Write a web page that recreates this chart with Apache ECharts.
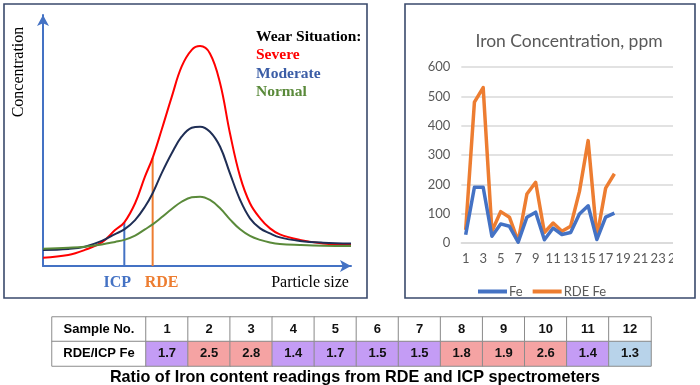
<!DOCTYPE html>
<html><head><meta charset="utf-8">
<script src="https://cdn.jsdelivr.net/npm/echarts@6/dist/echarts.min.js"></script>
<style>html,body{margin:0;padding:0;background:#fff}#c{width:700px;height:385px}</style>
</head><body><div id="c"></div>
<script>
// ---- Left panel: conceptual particle size distribution ----
const curveX   = [0, 8.2, 13.6, 19.1, 23.4, 26.4, 29.9, 33.1, 35.6, 38.5, 41.8, 45.0, 48.3, 51.0, 54.2, 57.5, 60.7, 64.0, 67.2, 70.5, 73.7, 76.9, 83.4, 90.9, 100];
const severe   = [3.3, 4.4, 6.4, 9.4, 14.3, 17.4, 25.0, 35.6, 43.1, 54.2, 67.4, 79.4, 86.1, 87.6, 84.7, 72.8, 52.9, 35.6, 25.0, 19.0, 15.0, 12.6, 10.4, 9.0, 8.6];
const moderate = [6.4, 6.8, 7.7, 10.0, 12.7, 14.6, 18.3, 23.6, 29.0, 36.9, 44.9, 51.5, 55.1, 55.5, 53.5, 47.5, 36.9, 26.3, 19.0, 15.0, 13.0, 11.4, 10.0, 9.3, 9.0];
const normal   = [6.9, 7.3, 7.7, 8.6, 9.6, 10.4, 12.1, 14.6, 16.6, 19.4, 22.7, 25.6, 27.4, 27.6, 26.3, 23.0, 18.6, 14.6, 12.0, 10.4, 9.4, 8.8, 8.4, 8.1, 8.0];
const wearNames = ['Severe', 'Moderate', 'Normal'];
const markerNames = ['ICP', 'RDE'];
const markerX = [26.4, 35.6];
const markerTop = [17.4, 43.1];

// ---- Right panel: iron concentration ----
const sampleCats = ['1','2','3','4','5','6','7','8','9','10','11','12','13','14','15','16','17','18','19','20','21','22','23','24','25'];
const fe    = [28, 190, 190, 23, 65, 57, 3, 88, 105, 11, 51, 29, 36, 99, 127, 12, 88, 102];
const rdeFe = [45, 480, 530, 40, 107, 88, 6, 167, 207, 36, 68, 40, 57, 175, 349, 20, 187, 236];

// ---- Table ----
const tableSamples = ['1','2','3','4','5','6','7','8','9','10','11','12'];
const ratios = [1.7, 2.5, 2.8, 1.4, 1.7, 1.5, 1.5, 1.8, 1.9, 2.6, 1.4, 1.3];
const rowLabels = ['Sample No.', 'RDE/ICP Fe'];
const caption = 'Ratio of Iron content readings from RDE and ICP spectrometers';

function ratioColor(r){ if (r >= 1.8) return '#F5A3A3'; if (r >= 1.4) return '#C49CF5'; return '#B8D3EA'; }

const serif = 'Liberation Serif';
const sans = 'Liberation Sans';
const cal = 'Lato';

const chart = echarts.init(document.getElementById('c'), null, {renderer:'canvas'});

const curveColors = ['#FF0000', '#1F2E55', '#5A8A3A'];
const legendColors = ['#FF0000', '#3B5DA6', '#5A8A3A'];
const markerColors = ['#4472C4', '#ED7D31'];

const curveSeries = [severe, moderate, normal].map((arr, k) => ({
  type: 'line', name: wearNames[k], xAxisIndex: 0, yAxisIndex: 0,
  data: curveX.map((x, i) => [x, arr[i]]), smooth: 0.4, showSymbol: false, symbol: 'none',
  lineStyle: {color: curveColors[k], width: 2}, itemStyle: {color: curveColors[k]}, z: 3, silent: true
}));

const markerSeries = markerNames.map((n, k) => ({
  type: 'line', name: n, xAxisIndex: 0, yAxisIndex: 0, silent: true,
  data: [
    {value: [markerX[k], 0], label: {show: true, position: 'bottom', distance: 9, offset: [k === 0 ? -7 : 9, 0],
      formatter: n, color: markerColors[k], fontFamily: serif, fontWeight: 'bold', fontSize: 16}},
    [markerX[k], markerTop[k]]
  ],
  symbol: 'circle', symbolSize: 0, showSymbol: true,
  lineStyle: {color: markerColors[k], width: 2}, itemStyle: {color: markerColors[k]}, z: 2
}));

const tableData = [];
tableSamples.forEach((s, i) => {
  tableData.push({value: [i, 0, Number(s)], name: s, itemStyle: {color: '#FFFFFF'}});
  tableData.push({value: [i, 1, ratios[i]], name: ratios[i].toFixed(1), itemStyle: {color: ratioColor(ratios[i])}});
});

const option = {
  animation: false,
  textStyle: {fontFamily: sans},
  title: [
    {text: 'Wear Situation:', left: 251, top: 24, textStyle: {fontFamily: serif, fontWeight: 'bold', fontSize: 15.5, color: '#000'}},
    {text: 'Iron Concentration, ppm', left: 564, top: 27, textAlign: 'center', textStyle: {fontFamily: cal, fontWeight: 'normal', fontSize: 17.5, color: '#595959'}},
    {text: caption, left: 350, top: 365, textAlign: 'center', textStyle: {fontFamily: sans, fontWeight: 'bold', fontSize: 16.2, color: '#000'}}
  ],
  legend: [
    {data: wearNames.map((n, k) => ({name: n, textStyle: {color: legendColors[k]}})),
     orient: 'vertical', left: 246, top: 42, itemWidth: 0, itemHeight: 0, itemGap: 2.5, icon: 'rect', selectedMode: false,
     textStyle: {fontFamily: serif, fontWeight: 'bold', fontSize: 15.5, lineHeight: 16}},
    {data: [{name: 'Fe', icon: 'rect'}, {name: 'RDE Fe', icon: 'rect'}], left: 473, top: 280, itemWidth: 29, itemHeight: 4, itemGap: 10, selectedMode: false,
     textStyle: {fontFamily: cal, fontSize: 13, color: '#595959', padding: [0,0,0,-3]}}
  ],
  grid: [
    {left: 43, right: 349, top: 15, bottom: 119},
    {left: 461.3, right: 20, top: 67, bottom: 142},
    {left: 52, width: 94, top: 317, height: 49},
    {left: 146, right: 49, top: 317, height: 49}
  ],
  xAxis: [
    {gridIndex: 0, type: 'value', min: 0, max: 100, axisLabel: {show: false}, axisTick: {show: false}, splitLine: {show: false},
     axisLine: {show: true, symbol: ['none', 'arrow'], symbolSize: [9, 11], lineStyle: {color: '#4472C4', width: 2}}},
    {gridIndex: 1, type: 'category', data: sampleCats, boundaryGap: true,
     axisLine: {lineStyle: {color: '#D9D9D9', width: 1.5}}, axisTick: {show: false},
     axisLabel: {interval: 1, color: '#595959', fontFamily: cal, fontSize: 13, margin: 9}},
    {gridIndex: 2, type: 'category', data: ['h'], show: false},
    {gridIndex: 3, type: 'category', data: tableSamples, show: false}
  ],
  yAxis: [
    {gridIndex: 0, type: 'value', min: 0, max: 100, axisLabel: {show: false}, axisTick: {show: false}, splitLine: {show: false},
     axisLine: {show: true, symbol: ['none', 'arrow'], symbolSize: [9, 11], lineStyle: {color: '#4472C4', width: 2}}},
    {gridIndex: 1, type: 'value', min: 0, max: 600, interval: 100,
     axisLine: {show: false}, axisTick: {show: false},
     splitLine: {lineStyle: {color: '#D9D9D9', width: 1.5}},
     axisLabel: {color: '#595959', fontFamily: cal, fontSize: 13, margin: 11}},
    {gridIndex: 2, type: 'category', data: ['r0', 'r1'], inverse: true, show: false},
    {gridIndex: 3, type: 'category', data: ['r0', 'r1'], inverse: true, show: false}
  ],
  graphic: [
    {type: 'rect', shape: {x: 673, y: 55, width: 21, height: 215}, style: {fill: '#fff'}, z: 99},
    {type: 'rect', shape: {x: 4, y: 4, width: 363, height: 294}, style: {fill: 'none', stroke: '#3A4A6C', lineWidth: 1.6}, z: 100},
    {type: 'rect', shape: {x: 405, y: 4, width: 290, height: 294}, style: {fill: 'none', stroke: '#3A4A6C', lineWidth: 1.6}, z: 100},
    {type: 'text', x: 19, y: 72, rotation: Math.PI / 2, style: {text: 'Concentration', fontFamily: serif, fontSize: 16, fill: '#000', textAlign: 'center', textVerticalAlign: 'middle'}},
    {type: 'text', x: 310, y: 283, style: {text: 'Particle size', fontFamily: serif, fontSize: 16, fill: '#000', textAlign: 'center', textVerticalAlign: 'middle'}}
  ],
  series: [
    ...curveSeries,
    ...markerSeries,
    {type: 'line', name: 'Fe', xAxisIndex: 1, yAxisIndex: 1, data: fe, showSymbol: false, symbol: 'none',
     lineStyle: {color: '#4472C4', width: 3.5, join: 'round'}, itemStyle: {color: '#4472C4'}, z: 3},
    {type: 'line', name: 'RDE Fe', xAxisIndex: 1, yAxisIndex: 1, data: rdeFe, showSymbol: false, symbol: 'none',
     lineStyle: {color: '#ED7D31', width: 3.5, join: 'round'}, itemStyle: {color: '#ED7D31'}, z: 2},
    {type: 'heatmap', xAxisIndex: 2, yAxisIndex: 2, silent: true,
     data: rowLabels.map((t, i) => ({value: [0, i, i], name: t, itemStyle: {color: '#FFFFFF'}})),
     itemStyle: {borderColor: '#8C8C8C', borderWidth: 1},
     label: {show: true, formatter: '{b}', fontFamily: sans, fontWeight: 'bold', fontSize: 13, color: '#000'}},
    {type: 'heatmap', xAxisIndex: 3, yAxisIndex: 3, silent: true, data: tableData,
     itemStyle: {borderColor: '#8C8C8C', borderWidth: 1},
     label: {show: true, formatter: '{b}', fontFamily: sans, fontWeight: 'bold', fontSize: 13, color: '#111'}}
  ]
};
chart.setOption(option);
</script></body></html>
